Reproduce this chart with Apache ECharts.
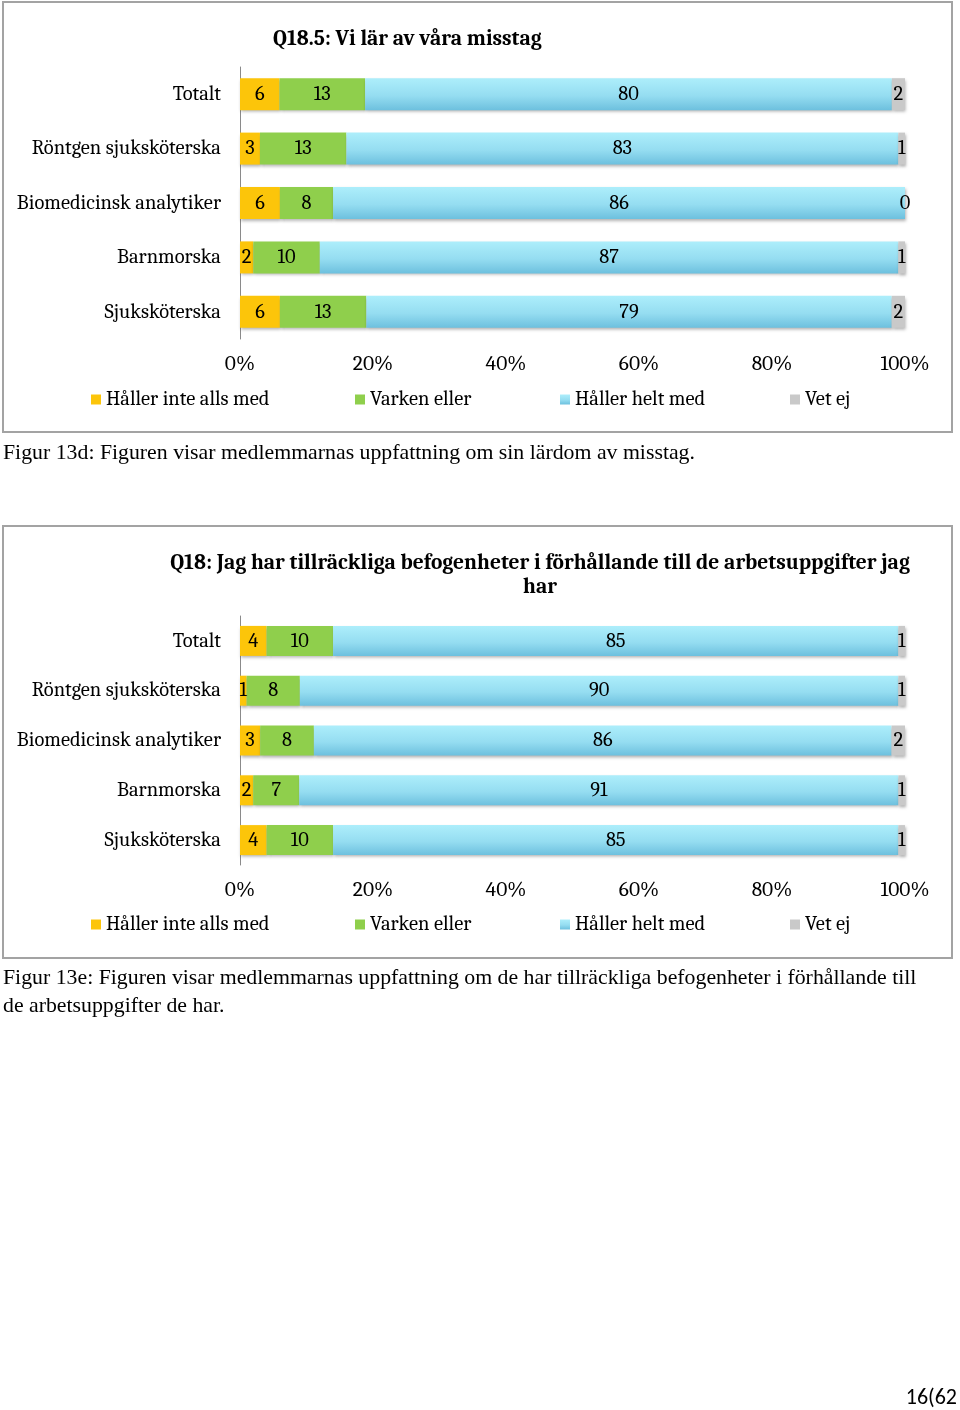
<!DOCTYPE html>
<html>
<head>
<meta charset="utf-8">
<script src="https://cdn.jsdelivr.net/npm/echarts@6/dist/echarts.min.js"></script>
<style>
html,body{margin:0;padding:0;background:#fff;}
#c{width:960px;height:1410px;}
</style>
</head>
<body>
<div id="c"></div>
<script>
const categories = ['Totalt', 'Röntgen sjuksköterska', 'Biomedicinsk analytiker', 'Barnmorska', 'Sjuksköterska'];
const seriesNames = ['Håller inte alls med', 'Varken eller', 'Håller helt med', 'Vet ej'];

// Q18.5
const q185Inte = [6, 3, 6, 2, 6];
const q185Varken = [13, 13, 8, 10, 13];
const q185Helt = [80, 83, 86, 87, 79];
const q185VetEj = [2, 1, 0, 1, 2];

// Q18
const q18Inte = [4, 1, 3, 2, 4];
const q18Varken = [10, 8, 8, 7, 10];
const q18Helt = [85, 90, 86, 91, 85];
const q18VetEj = [1, 1, 2, 1, 1];

const xTickStep = 20;
const title1 = 'Q18.5: Vi lär av våra misstag';
const title2 = 'Q18: Jag har tillräckliga befogenheter i förhållande till de arbetsuppgifter jag\nhar';
const caption1 = 'Figur 13d: Figuren visar medlemmarnas uppfattning om sin lärdom av misstag.';
const caption2a = 'Figur 13e: Figuren visar medlemmarnas uppfattning om de har tillräckliga befogenheter i förhållande till';
const caption2b = 'de arbetsuppgifter de har.';
const pageNo = '16(62';

const SERIF = 'Cambria, "Liberation Serif", "DejaVu Serif", serif';
const TIMES = '"Times New Roman", "Liberation Serif", serif';
const FS = 20.5;

const colors = [
  '#FCC50A',
  '#8FCF4C',
  {type:'linear', x:0, y:0, x2:0, y2:1, colorStops:[
    {offset:0, color:'#ADEEFB'}, {offset:0.55, color:'#95DDF1'}, {offset:1, color:'#6DC0DE'}]},
  '#C9C9C9'
];

function makeSeries(groups, axisIdx) {
  const n = categories.length;
  const sums = [];
  for (let i = 0; i < n; i++) sums.push(groups.reduce((s, g) => s + g[i], 0));
  return groups.map((g, k) => ({
    name: seriesNames[k],
    type: 'bar',
    stack: 'total' + axisIdx,
    xAxisIndex: axisIdx,
    yAxisIndex: axisIdx,
    barWidth: 32 - axisIdx * 2,
    data: g.map((v, i) => v / sums[i] * 100),
    itemStyle: {
      color: colors[k],
      shadowColor: 'rgba(0,0,0,0.30)',
      shadowBlur: 3,
      shadowOffsetY: 2,
      shadowOffsetX: 1
    },
    label: {
      show: true,
      position: 'inside',
      color: '#000',
      fontFamily: SERIF,
      fontSize: FS,
      formatter: p => String(g[p.dataIndex])
    },
    emphasis: {disabled: true},
    animation: false
  }));
}

const series = [
  ...makeSeries([q185Inte, q185Varken, q185Helt, q185VetEj], 0),
  ...makeSeries([q18Inte, q18Varken, q18Helt, q18VetEj], 1)
];

function xAxis(gi) {
  return {
    type: 'value', gridIndex: gi, min: 0, max: 100, interval: xTickStep,
    axisLine: {show: false}, axisTick: {show: false}, splitLine: {show: false},
    axisLabel: {formatter: '{value}%', color: '#000', fontFamily: SERIF, fontSize: 21.5, margin: 14}
  };
}
function yAxis(gi) {
  return {
    type: 'category', gridIndex: gi, data: categories, inverse: true,
    axisLine: {show: true, lineStyle: {color: '#8a8a8a', width: 1}},
    axisTick: {show: false},
    axisLabel: {color: '#000', fontFamily: SERIF, fontSize: FS, margin: 19}
  };
}

const legendX = [91, 355, 560, 790];
const legends = [];
[398, 923].forEach(cy => {
  seriesNames.forEach((nm, k) => {
    legends.push({
      data: [nm], left: legendX[k], top: cy - 9, itemWidth: 10, itemHeight: 10, itemGap: 0,
      icon: 'rect', selectedMode: false, padding: 0,
      textStyle: {color: '#000', fontFamily: SERIF, fontSize: FS}
    });
  });
});

const option = {
  animation: false,
  title: [
    {text: title1, left: 273, top: 28, padding: 0, textStyle: {fontFamily: SERIF, fontWeight: 'bold', fontSize: 21.5, color: '#000'}},
    {text: title2, left: 540, top: 551, textAlign: 'center', padding: 0,
     textStyle: {fontFamily: SERIF, fontWeight: 'bold', fontSize: 21.5, color: '#000', lineHeight: 24, align: 'center'}}
  ],
  grid: [
    {left: 240, width: 665, top: 67, height: 272},
    {left: 240, width: 665, top: 616, height: 249}
  ],
  xAxis: [xAxis(0), xAxis(1)],
  yAxis: [yAxis(0), yAxis(1)],
  legend: legends,
  series: series,
  graphic: [
    {type: 'rect', shape: {x: 3, y: 2, width: 949, height: 430}, style: {fill: 'none', stroke: '#a3a3a3', lineWidth: 2}, silent: true},
    {type: 'rect', shape: {x: 3, y: 526, width: 949, height: 432}, style: {fill: 'none', stroke: '#a3a3a3', lineWidth: 2}, silent: true},
    {type: 'text', left: 3, top: 442, style: {text: caption1, font: '21.8px ' + TIMES, fill: '#000'}},
    {type: 'text', left: 3, top: 967, style: {text: caption2a, font: '21.8px ' + TIMES, fill: '#000'}},
    {type: 'text', left: 3, top: 995, style: {text: caption2b, font: '21.8px ' + TIMES, fill: '#000'}},
    {type: 'text', right: 3, top: 1387, style: {text: pageNo, font: '22px Calibri, Lato, "Open Sans", sans-serif', fill: '#000'}}
  ]
};

const chart = echarts.init(document.getElementById('c'), null, {renderer: 'canvas'});
chart.setOption(option);
</script>
</body>
</html>
